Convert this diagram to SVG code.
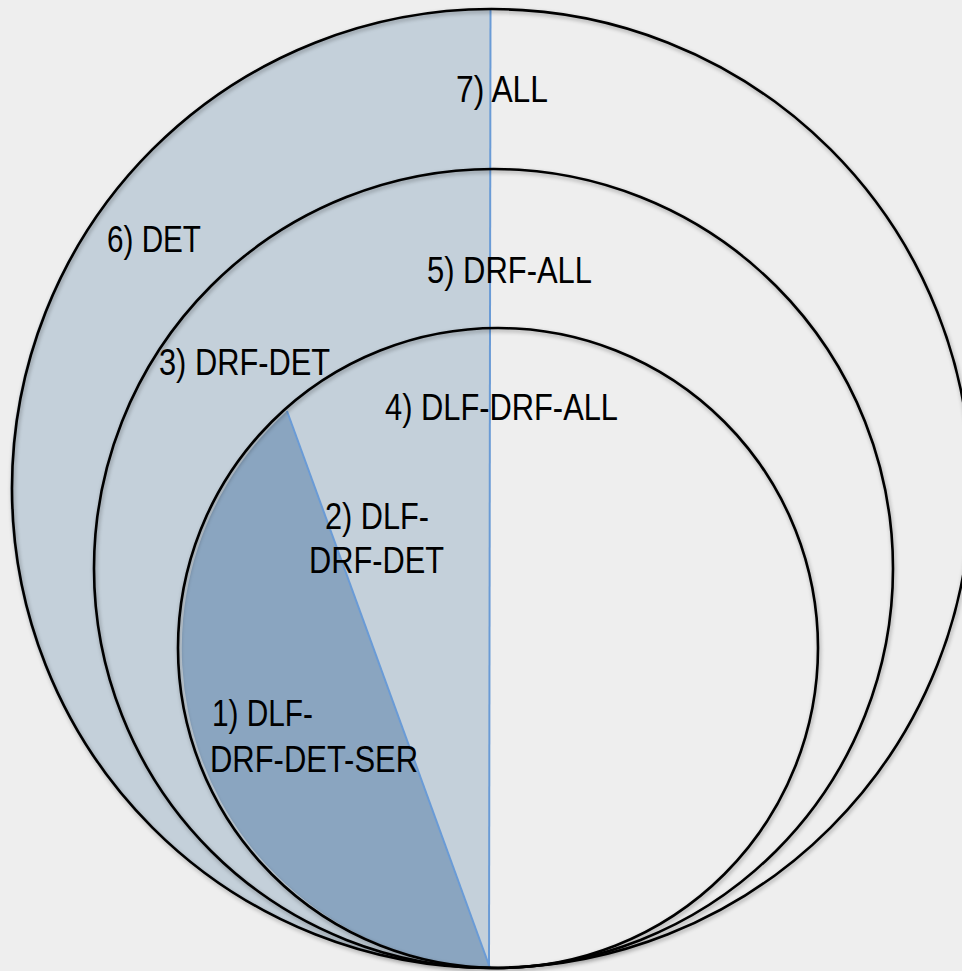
<svg xmlns="http://www.w3.org/2000/svg" width="962" height="971" viewBox="0 0 962 971">
  <defs>
    <filter id="soft-shadow" x="-5%" y="-5%" width="110%" height="110%">
      <feGaussianBlur in="SourceAlpha" stdDeviation="2"/>
      <feOffset dx="1" dy="2" result="blur"/>
      <feComponentTransfer><feFuncA type="linear" slope="0.35"/></feComponentTransfer>
      <feMerge><feMergeNode/><feMergeNode in="SourceGraphic"/></feMerge>
    </filter>
  </defs>
  <style>
    .ring { fill: none; stroke: #000; stroke-width: 2.6; }
    .divider { fill: none; stroke: #6a9bd6; stroke-width: 2; }
    .label { font-family: "Liberation Sans", Arial, sans-serif; font-size: 36px; fill: #000; }
  </style>

  <!-- canvas -->
  <rect width="962" height="971" fill="#eeeeee"/>

  <!-- left half of the outer set, lightly shaded -->
  <g id="det-half">
    <path d="M490.5 9 A479.5 479.5 0 0 0 489 968 Z" fill="#c4d0da"/>
  </g>

  <!-- darker wedge inside the inner set -->
  <g id="ser-wedge">
    <path d="M287 411 L490 968 A320 320 0 0 1 287 411 Z" fill="#8aa5c0"/>
  </g>

  <!-- dividing lines -->
  <g id="dividers">
    <line class="divider" x1="490.5" y1="9" x2="489" y2="968"/>
    <line class="divider" x1="287" y1="411" x2="490" y2="968"/>
  </g>

  <!-- nested sets -->
  <g filter="url(#soft-shadow)">
    <g id="set-all"><circle class="ring" cx="491.5" cy="488.5" r="479.5"/></g>
    <g id="set-drf"><circle class="ring" cx="493.5" cy="568.5" r="399.5"/></g>
    <g id="set-dlf-drf"><circle class="ring" cx="498" cy="648" r="320"/></g>
  </g>

  <!-- labels -->
  <g id="labels">
    <g id="label-7"><text class="label" x="456" y="102" textLength="92" lengthAdjust="spacingAndGlyphs">7) ALL</text></g>
    <g id="label-6"><text class="label" x="107" y="252" textLength="94" lengthAdjust="spacingAndGlyphs">6) DET</text></g>
    <g id="label-5"><text class="label" x="427" y="283" textLength="165" lengthAdjust="spacingAndGlyphs">5) DRF-ALL</text></g>
    <g id="label-3"><text class="label" x="159" y="375" textLength="171" lengthAdjust="spacingAndGlyphs">3) DRF-DET</text></g>
    <g id="label-4"><text class="label" x="385" y="420" textLength="233" lengthAdjust="spacingAndGlyphs">4) DLF-DRF-ALL</text></g>
    <g id="label-2">
      <text class="label" x="325" y="529" textLength="104" lengthAdjust="spacingAndGlyphs">2) DLF-</text>
      <text class="label" x="309" y="573" textLength="135" lengthAdjust="spacingAndGlyphs">DRF-DET</text>
    </g>
    <g id="label-1">
      <text class="label" x="212" y="726" textLength="101" lengthAdjust="spacingAndGlyphs">1) DLF-</text>
      <text class="label" x="210" y="772" textLength="208" lengthAdjust="spacingAndGlyphs">DRF-DET-SER</text>
    </g>
  </g>
</svg>
